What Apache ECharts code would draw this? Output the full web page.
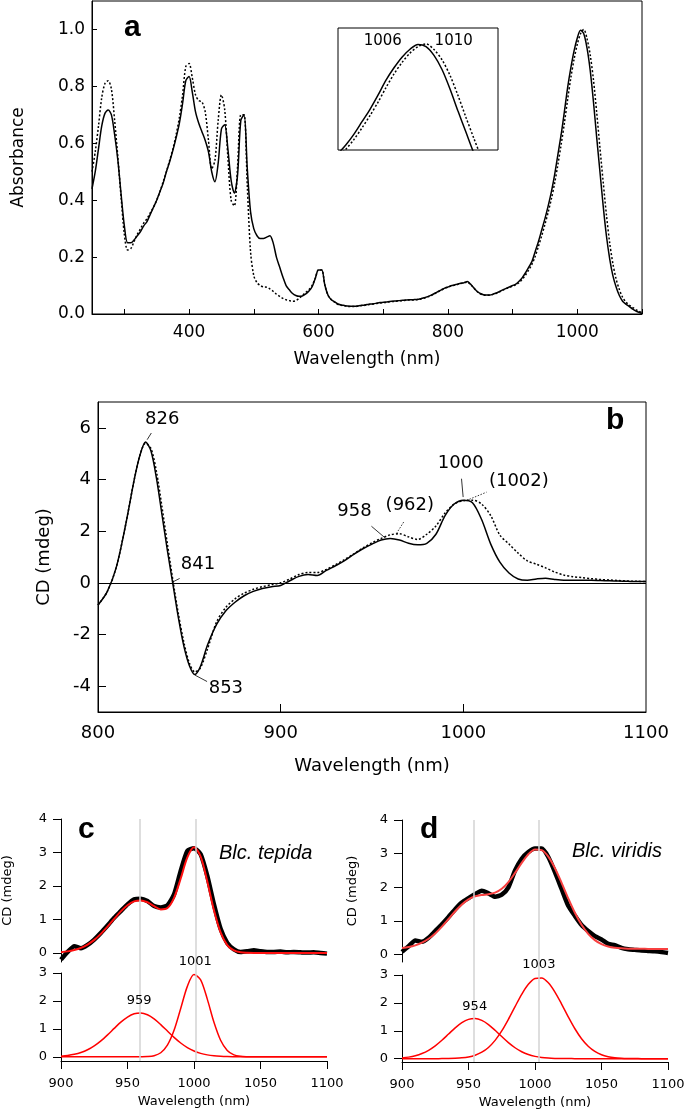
<!DOCTYPE html>
<html><head><meta charset="utf-8">
<script src="https://cdn.jsdelivr.net/npm/echarts@6/dist/echarts.min.js"></script>
<style>html,body{margin:0;padding:0;background:#fff}#c{width:685px;height:1112px}</style>
</head><body><div id="c"></div>
<script>
// ---------- Panel a: absorbance ----------
const wlA = [250,255,260,265,270,275,280,285,290,295,
300,305,310,315,320,325,330,335,340,345,
350,355,360,365,370,375,380,385,390,395,
400,405,410,415,420,425,430,435,440,445,
450,455,460,465,470,475,480,485,490,495,
500,505,510,515,520,525,530,535,540,545,
550,555,560,565,570,575,580,585,590,595,
600,605,610,615,620,625,630,635,640,645,
650,655,660,665,670,675,680,685,690,695,
700,705,710,715,720,725,730,735,740,745,
750,755,760,765,770,775,780,785,790,795,
800,805,810,815,820,825,830,835,840,845,
850,855,860,865,870,875,880,885,890,895,
900,905,910,915,920,925,930,935,940,945,
950,955,960,965,970,975,980,985,990,995,
1000,1005,1010,1015,1020,1025,1030,1035,1040,1045,
1050,1055,1060,1065,1070,1075,1080,1085,1090,1095,
1100];
const absSolid = [0.44,0.50,0.58,0.66,0.705,0.717,0.70,0.63,0.54,0.42,
0.31,0.25,0.25,0.26,0.275,0.29,0.31,0.325,0.35,0.375,
0.40,0.43,0.46,0.50,0.535,0.575,0.62,0.67,0.74,0.82,
0.835,0.78,0.71,0.67,0.64,0.61,0.57,0.50,0.465,0.53,
0.65,0.665,0.58,0.47,0.425,0.49,0.68,0.70,0.51,0.36,
0.30,0.275,0.265,0.265,0.27,0.275,0.25,0.20,0.165,0.13,
0.10,0.085,0.072,0.065,0.062,0.063,0.07,0.08,0.095,0.125,
0.155,0.155,0.10,0.065,0.05,0.043,0.035,0.032,0.03,0.028,
0.027,0.027,0.028,0.03,0.031,0.033,0.035,0.036,0.038,0.04,
0.041,0.042,0.044,0.045,0.046,0.047,0.048,0.049,0.05,0.05,
0.051,0.052,0.055,0.058,0.062,0.067,0.073,0.079,0.085,0.091,
0.095,0.099,0.102,0.105,0.108,0.11,0.114,0.105,0.092,0.08,
0.072,0.068,0.067,0.067,0.07,0.074,0.079,0.085,0.09,0.095,
0.10,0.105,0.115,0.128,0.145,0.165,0.185,0.22,0.255,0.295,
0.335,0.38,0.43,0.49,0.56,0.63,0.71,0.795,0.865,0.925,
0.97,0.997,0.985,0.935,0.855,0.745,0.62,0.50,0.38,0.275,
0.195,0.135,0.095,0.065,0.045,0.035,0.027,0.018,0.011,0.006,
0.002];
const absDashed = [0.50,0.57,0.66,0.76,0.81,0.82,0.79,0.68,0.55,0.41,
0.28,0.225,0.23,0.255,0.28,0.30,0.32,0.335,0.355,0.375,
0.40,0.43,0.465,0.50,0.54,0.58,0.63,0.69,0.77,0.87,
0.88,0.83,0.77,0.75,0.745,0.71,0.61,0.51,0.54,0.68,
0.77,0.72,0.55,0.40,0.38,0.52,0.70,0.70,0.45,0.22,
0.135,0.11,0.10,0.095,0.094,0.088,0.08,0.07,0.062,0.055,
0.05,0.047,0.045,0.047,0.055,0.065,0.075,0.085,0.10,0.125,
0.155,0.155,0.10,0.065,0.05,0.042,0.034,0.031,0.029,0.027,
0.026,0.026,0.027,0.029,0.03,0.032,0.034,0.035,0.037,0.039,
0.04,0.041,0.043,0.044,0.045,0.046,0.047,0.048,0.049,0.049,
0.05,0.051,0.054,0.057,0.061,0.066,0.072,0.078,0.084,0.09,
0.094,0.098,0.101,0.104,0.107,0.11,0.112,0.104,0.091,0.079,
0.071,0.067,0.066,0.066,0.069,0.073,0.078,0.084,0.089,0.094,
0.098,0.103,0.11,0.122,0.137,0.155,0.175,0.203,0.238,0.275,
0.315,0.358,0.405,0.46,0.525,0.595,0.67,0.753,0.83,0.895,
0.948,0.985,1.0,0.968,0.91,0.822,0.708,0.584,0.464,0.349,
0.251,0.177,0.123,0.086,0.059,0.042,0.032,0.024,0.016,0.01,
0.005];
const ticksAx = [300,400,500,600,700,800,900,1000,1100];
const labelsAx = [400,600,800,1000];
const ticksAy = [0,0.2,0.4,0.6,0.8,1.0];
const insetLabels = [[983,1.014,'1006'],[1027.3,1.014,'1010']];

// ---------- Panel b: CD ----------
const wlB = [800,805,810,815,820,823,826,829,832,835,838,841,844,847,850,853,856,
860,865,870,875,880,885,890,895,900,
905,910,915,920,925,930,935,940,945,950,
955,960,965,970,975,980,985,990,995,1000,
1005,1010,1015,1020,1025,1030,1035,1040,1045,1050,
1055,1060,1065,1070,1075,1080,1085,1090,1095,1100];
const cdSolid = [-0.86,-0.35,0.6,2.2,4.05,4.95,5.45,5.1,4.05,2.65,1.25,-0.05,-1.35,-2.45,-3.2,-3.55,-3.25,
-2.4,-1.6,-1.08,-0.75,-0.5,-0.33,-0.22,-0.15,-0.1,
0.08,0.25,0.32,0.28,0.48,0.66,0.86,1.1,1.32,1.5,
1.66,1.72,1.66,1.53,1.47,1.53,1.88,2.6,3.05,3.2,
3.1,2.45,1.5,0.8,0.38,0.15,0.1,0.15,0.18,0.13,
0.1,0.1,0.1,0.1,0.09,0.08,0.07,0.06,0.05,0.05];
const cdDashed = [-0.86,-0.35,0.6,2.2,4.05,4.95,5.4,5.2,4.3,2.95,1.5,0.1,-1.2,-2.3,-3.1,-3.45,-3.3,
-2.55,-1.5,-0.95,-0.62,-0.4,-0.25,-0.15,-0.07,0.0,
0.15,0.32,0.4,0.4,0.52,0.7,0.9,1.12,1.35,1.55,
1.72,1.86,1.9,1.78,1.68,1.88,2.2,2.7,3.05,3.18,
3.2,3.05,2.6,1.85,1.5,1.15,0.85,0.72,0.58,0.42,
0.3,0.24,0.2,0.16,0.13,0.11,0.09,0.07,0.06,0.05];
const ticksBx = [900,1000];
const labelsBx = [800,900,1000,1100];
const ticksBy = [-4,-2,0,2,4,6];
const leadersSolidB = [[826.9,5.54,829.2,5.8],[841.1,0.04,844.7,0.17],[853,-3.57,859.7,-3.82],[949.7,2.19,957,1.75],[999,4.03,999.9,3.32]];
const leadersDottedB = [[963.4,1.91,967.4,2.36],[1001.8,3.19,1012.7,3.51]];
const labelsB = [[835.2,6.32,'826'],[854.7,0.72,'841'],[870,-4.07,'853'],[940.4,2.77,'958'],[970.7,3.0,'(962)'],[998.6,4.64,'1000'],[1030.4,3.93,'(1002)']];

// ---------- Panels c, d: CD fits ----------
const wlCD = [900,905,910,915,920,925,930,935,940,945,
950,955,960,965,970,975,980,985,990,995,
1000,1005,1010,1015,1020,1025,1030,1035,1040,1045,
1050,1055,1060,1065,1070,1075,1080,1085,1090,1095,
1100];
const cExp = [-0.20,0.03,0.20,0.14,0.24,0.40,0.60,0.82,1.05,1.25,
1.45,1.60,1.62,1.55,1.40,1.36,1.42,1.75,2.45,3.05,
3.13,2.95,2.30,1.45,0.72,0.30,0.11,0.03,0.05,0.08,
0.05,0.03,0.03,0.04,0.02,0.03,0.02,0.01,0.02,0.0,
-0.02];
const cFit = [0.024,0.047,0.088,0.153,0.252,0.391,0.571,0.786,1.017,1.241,
1.424,1.540,1.570,1.513,1.399,1.300,1.339,1.644,2.223,2.853,
3.155,2.880,2.133,1.273,0.612,0.236,0.074,0.019,0.004,0,
0,0,0,0,0,0,0,0,0,0,
0];
const cG1 = [0.024,0.047,0.088,0.153,0.252,0.391,0.571,0.786,1.017,1.241,
1.424,1.540,1.568,1.504,1.358,1.154,0.924,0.697,0.495,0.331,
0.208,0.123,0.069,0.036,0.018,0.008,0.004,0.002,0.001,0,
0,0,0,0,0,0,0,0,0,0,
0];
const cG2 = [0,0,0,0,0,0,0,0,0,0,
0,0,0.002,0.009,0.041,0.146,0.415,0.947,1.728,2.522,
2.947,2.757,2.064,1.237,0.594,0.228,0.070,0.017,0.003,0,
0,0,0,0,0,0,0,0,0,0,
0];
const cPeaks = [959,1001];
const cLabels = [[958.7,2.01,'959'],[1001,3.42,'1001']];

const dExp = [0.08,0.25,0.42,0.38,0.50,0.70,0.90,1.12,1.35,1.55,
1.68,1.80,1.90,1.82,1.72,1.78,2.00,2.50,2.85,3.05,
3.15,3.15,2.90,2.45,1.95,1.45,1.15,0.88,0.70,0.55,
0.45,0.32,0.28,0.20,0.16,0.14,0.12,0.11,0.10,0.08,
0.05];
const dFit = [0.198,0.225,0.274,0.353,0.470,0.630,0.831,1.057,1.287,1.489,
1.641,1.732,1.772,1.794,1.842,1.956,2.155,2.428,2.726,2.983,
3.126,3.106,2.911,2.568,2.133,1.672,1.243,0.886,0.616,0.430,
0.311,0.242,0.204,0.185,0.176,0.172,0.171,0.170,0.170,0.170,
0.170];
const dG1 = [0.028,0.055,0.104,0.183,0.300,0.460,0.659,0.882,1.104,1.290,
1.409,1.438,1.371,1.222,1.017,0.792,0.575,0.391,0.248,0.147,
0.082,0.042,0.020,0.009,0.004,0.002,0.001,0,0,0,
0,0,0,0,0,0,0,0,0,0,
0];
const dG2 = [0,0,0,0,0,0,0.002,0.005,0.013,0.029,
0.062,0.124,0.231,0.402,0.655,0.994,1.410,1.867,2.308,2.666,
2.874,2.894,2.721,2.389,1.959,1.500,1.072,0.716,0.446,0.260,
0.141,0.072,0.034,0.015,0.006,0.002,0.001,0,0,0,
0];
const dPeaks = [954,1003];
const dLabels = [[954.7,1.86,'954'],[1002.9,3.36,'1003']];
const labelsCDx = [900,950,1000,1050,1100];
const ticksUpperY = [0,1,2,3,4];
const ticksLowerY = [0,1,2,3];

// ---------- build ----------
const FONT = 'DejaVu Sans';
const pair = (xs, ys) => xs.map((x, i) => [x, ys[i]]);
const BLACK = '#000';

function grid(l, t, w, h, box) {
  return {left: l, top: t, width: w, height: h, show: !!box, borderColor: BLACK, borderWidth: 1,
          backgroundColor: box === 'inset' ? '#fff' : 'transparent', outerBoundsMode: 'none', containLabel: false};
}
function hiddenAxis(gi, min, max) {
  return {gridIndex: gi, type: 'value', min, max, show: false, splitLine: {show: false}};
}
function valAxis(o) {
  return {
    gridIndex: o.gi, type: 'value', min: o.min, max: o.max,
    axisLine: {show: true, onZero: false, lineStyle: {color: BLACK, width: 1}},
    axisTick: {show: true, inside: o.inside, length: o.tickLen, customValues: o.ticks, lineStyle: {color: BLACK, width: 1}},
    axisLabel: {show: true, customValues: o.labels, fontSize: o.fs, color: BLACK, fontFamily: FONT, margin: o.margin,
                formatter: o.fmt || (v => String(v))},
    splitLine: {show: false},
    name: o.name, nameLocation: 'middle', nameGap: o.nameGap,
    nameTextStyle: {fontSize: o.fs, color: BLACK, fontFamily: FONT}
  };
}
function lineSeries(xi, yi, xs, ys, color, width, type, extra) {
  return Object.assign({type: 'line', xAxisIndex: xi, yAxisIndex: yi, data: pair(xs, ys), showSymbol: false,
    symbol: 'none', smooth: 0.3, lineStyle: {color, width, type: type || 'solid'}, silent: true, animation: false, z: 3}, extra || {});
}
function labelSeries(xi, yi, arr, fs) {
  return {type: 'scatter', xAxisIndex: xi, yAxisIndex: yi, symbolSize: 0, clip: false, silent: true, z: 6, animation: false,
    itemStyle: {opacity: 1, color: BLACK},
    data: arr.map(a => ({value: [a[0], a[1]], label: {show: true, position: 'inside', formatter: a[2], fontSize: fs,
      color: BLACK, opacity: 1, fontFamily: FONT}}))};
}
function leaderMark(list, type, extraData) {
  const data = list.map(l => [{coord: [l[0], l[1]]}, {coord: [l[2], l[3]]}]);
  return {silent: true, symbol: ['none', 'none'], label: {show: false}, animation: false,
    lineStyle: {color: BLACK, width: 0.8, type}, emphasis: {disabled: true},
    data: (extraData || []).concat(data)};
}
function vlineSeries(xi, yi, peaks) {
  return {type: 'line', xAxisIndex: xi, yAxisIndex: yi, data: [], silent: true, z: 1, animation: false,
    markLine: {silent: true, symbol: ['none', 'none'], label: {show: false}, animation: false,
      lineStyle: {color: '#d3d3d3', width: 1.5, type: 'solid'}, emphasis: {disabled: true},
      data: peaks.map(p => ({xAxis: p}))}};
}

const grids = [
  grid(92, 1, 550, 313, true),        // 0 a
  grid(338, 28, 160, 122, 'inset'),   // 1 inset
  grid(98, 402, 548, 310, true),      // 2 b
  grid(61, 819, 266, 143, false),     // 3 c upper
  grid(61, 973, 266, 88, false),      // 4 c lower
  grid(61, 819, 266, 242, false),     // 5 c overlay
  grid(402, 820, 266, 142, false),    // 6 d upper
  grid(402, 975, 266, 87, false),     // 7 d lower
  grid(402, 820, 266, 242, false)     // 8 d overlay
];

const xAxes = [
  valAxis({gi: 0, min: 250, max: 1100, inside: true, tickLen: 5, ticks: ticksAx, labels: labelsAx, fs: 17, margin: 10, name: 'Wavelength (nm)', nameGap: 37}),
  hiddenAxis(1, 955, 1055),
  valAxis({gi: 2, min: 800, max: 1100, inside: true, tickLen: 8, ticks: ticksBx, labels: labelsBx, fs: 18, margin: 12, name: 'Wavelength (nm)', nameGap: 45}),
  hiddenAxis(3, 900, 1100),
  valAxis({gi: 4, min: 900, max: 1100, inside: false, tickLen: 8, ticks: labelsCDx, labels: labelsCDx, fs: 13, margin: 16, name: 'Wavelength (nm)', nameGap: 34}),
  hiddenAxis(5, 900, 1100),
  hiddenAxis(6, 900, 1100),
  valAxis({gi: 7, min: 900, max: 1100, inside: false, tickLen: 8, ticks: labelsCDx, labels: labelsCDx, fs: 13, margin: 16, name: 'Wavelength (nm)', nameGap: 34}),
  hiddenAxis(8, 900, 1100)
];
const yAxes = [
  valAxis({gi: 0, min: 0, max: 1.1, inside: true, tickLen: 5, ticks: ticksAy, labels: ticksAy, fs: 17, margin: 7, fmt: v => v.toFixed(1), name: 'Absorbance', nameGap: 65}),
  hiddenAxis(1, 0.4, 1.09),
  valAxis({gi: 2, min: -5, max: 7, inside: true, tickLen: 8, ticks: ticksBy, labels: ticksBy, fs: 18, margin: 7, name: 'CD (mdeg)', nameGap: 45}),
  valAxis({gi: 3, min: -0.27, max: 4, inside: false, tickLen: 8, ticks: ticksUpperY, labels: ticksUpperY, fs: 13, margin: 14, name: 'CD (mdeg)', nameGap: 47}),
  valAxis({gi: 4, min: -0.15, max: 3, inside: false, tickLen: 8, ticks: ticksLowerY, labels: ticksLowerY, fs: 13, margin: 14, name: '', nameGap: 0}),
  hiddenAxis(5, 0, 1),
  valAxis({gi: 6, min: -0.22, max: 4, inside: false, tickLen: 8, ticks: ticksUpperY, labels: ticksUpperY, fs: 13, margin: 14, name: 'CD (mdeg)', nameGap: 43}),
  valAxis({gi: 7, min: -0.12, max: 3, inside: false, tickLen: 8, ticks: ticksLowerY, labels: ticksLowerY, fs: 13, margin: 14, name: '', nameGap: 0}),
  hiddenAxis(8, 0, 1)
];

const DOT = [2, 2];
const series = [
  // panel a
  lineSeries(0, 0, wlA, absSolid, BLACK, 1.5),
  lineSeries(0, 0, wlA, absDashed, BLACK, 1.5, DOT),
  // inset
  lineSeries(1, 1, wlA, absSolid, BLACK, 1.5),
  lineSeries(1, 1, wlA, absDashed, BLACK, 1.5, DOT),
  labelSeries(1, 1, insetLabels, 15),
  // panel b
  lineSeries(2, 2, wlB, cdSolid, BLACK, 1.5, 'solid', {markLine: leaderMark(leadersSolidB, 'solid',
      [{yAxis: 0, lineStyle: {width: 1.2, color: BLACK, type: 'solid'}}])}),
  lineSeries(2, 2, wlB, cdDashed, BLACK, 1.5, DOT, {markLine: leaderMark(leadersDottedB, [1.5, 1.5])}),
  labelSeries(2, 2, labelsB, 18),
  // panel c
  vlineSeries(5, 5, cPeaks),
  lineSeries(3, 3, wlCD, cExp, BLACK, 4.5, 'solid', {smooth: 0.2}),
  lineSeries(3, 3, wlCD, cFit, '#ff1010', 2),
  lineSeries(4, 4, wlCD, cG1, '#ff0000', 1.5),
  lineSeries(4, 4, wlCD, cG2, '#ff0000', 1.5),
  labelSeries(4, 4, cLabels, 13),
  // panel d
  vlineSeries(8, 8, dPeaks),
  lineSeries(6, 6, wlCD, dExp, BLACK, 4.5, 'solid', {smooth: 0.2}),
  lineSeries(6, 6, wlCD, dFit, '#f84040', 2),
  lineSeries(7, 7, wlCD, dG1, '#ff0000', 1.5),
  lineSeries(7, 7, wlCD, dG2, '#ff0000', 1.5),
  labelSeries(7, 7, dLabels, 13)
];

const BOLD = 'bold 30px "Liberation Sans", Arial, sans-serif';
const ITAL = 'italic 20px "Liberation Sans", Arial, sans-serif';
const graphic = [
  {type: 'text', left: 124, top: 13, style: {text: 'a', font: BOLD, fill: BLACK}, z: 10},
  {type: 'text', left: 606, top: 406, style: {text: 'b', font: BOLD, fill: BLACK}, z: 10},
  {type: 'text', left: 78, top: 815, style: {text: 'c', font: BOLD, fill: BLACK}, z: 10},
  {type: 'text', left: 420, top: 815, style: {text: 'd', font: BOLD, fill: BLACK}, z: 10},
  {type: 'text', left: 219, top: 843, style: {text: 'Blc. tepida', font: ITAL, fill: BLACK}, z: 10},
  {type: 'text', left: 572, top: 841, style: {text: 'Blc. viridis', font: ITAL, fill: BLACK}, z: 10}
];

const chart = echarts.init(document.getElementById('c'), null, {renderer: 'canvas'});
chart.setOption({
  animation: false,
  backgroundColor: '#fff',
  textStyle: {fontFamily: FONT},
  grid: grids, xAxis: xAxes, yAxis: yAxes, series, graphic
});
</script></body></html>
